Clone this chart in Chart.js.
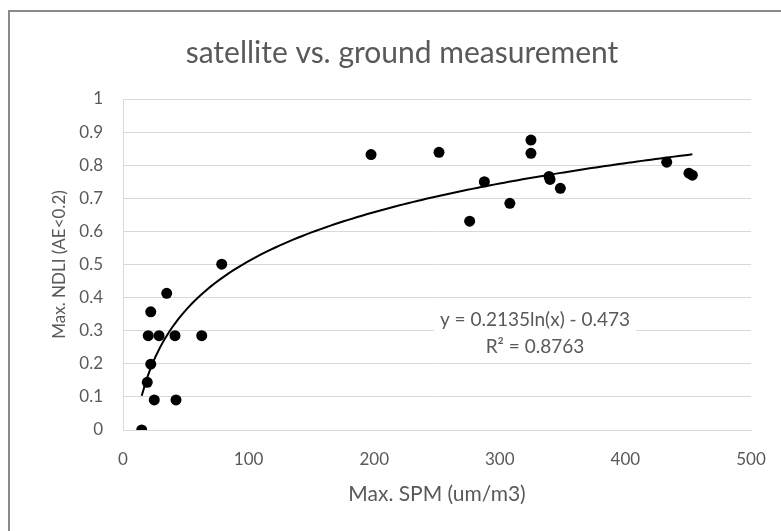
<!DOCTYPE html>
<html><head><meta charset="utf-8">
<script src="https://cdn.jsdelivr.net/npm/chart.js@4.4.1/dist/chart.umd.min.js"></script>
<style>
html,body{margin:0;padding:0;background:#fff;}
#wrap{position:relative;width:781px;height:531px;overflow:hidden;background:#fff;}
#frame{position:absolute;left:8px;top:10px;width:800px;height:600px;border-left:2px solid #8a8a8a;border-top:2px solid #8a8a8a;pointer-events:none;}
canvas{position:absolute;left:0;top:0;}
</style></head><body>
<div id="wrap"><canvas id="c" width="781" height="531"></canvas><div id="frame"></div></div>
<script>
// Data
const spm  = [14.9, 19.3, 22.1, 22.1, 20.1, 28.7, 41.4, 62.7, 24.9, 42.2, 34.8, 78.6,
              197.5, 251.6, 287.7, 276.0, 308.0, 324.8, 324.8, 339.2, 340.0, 348.2, 432.9, 450.6, 453.3];
const ndli = [0.000, 0.144, 0.199, 0.357, 0.285, 0.285, 0.285, 0.285, 0.091, 0.091, 0.413, 0.501,
              0.832, 0.839, 0.750, 0.631, 0.685, 0.876, 0.836, 0.766, 0.757, 0.730, 0.809, 0.776, 0.770];
// Trendline coefficients shown on the chart: y = a ln(x) + b
const trendA = 0.2135;
const trendB = -0.473;
const trendLabel = ["y = 0.2135ln(x) - 0.473", "R\u00B2 = 0.8763"];
const xTicks = [0, 100, 200, 300, 400, 500];
const yTicks = [0, 0.1, 0.2, 0.3, 0.4, 0.5, 0.6, 0.7, 0.8, 0.9, 1];
const yTickLabels = ["0", "0.1", "0.2", "0.3", "0.4", "0.5", "0.6", "0.7", "0.8", "0.9", "1"];
const chartTitle = "satellite vs. ground measurement";
const xTitle = "Max. SPM (um/m3)";
const yTitle = "Max. NDLI (AE<0.2)";

const points = spm.map((x, i) => ({x: x, y: ndli[i]}));
const xMin = Math.min(...spm), xMax = Math.max(...spm);
const trend = [];
const nSteps = 120;
for (let i = 0; i <= nSteps; i++) {
  const x = xMin + (xMax - xMin) * i / nSteps;
  trend.push({x: x, y: trendA * Math.log(x) + trendB});
}

const FONT = "Lato, 'Open Sans', sans-serif";
const TXT = "#595959";
const GRID = "#d9d9d9";

const eqPlugin = {
  id: 'eqLabel',
  afterDatasetsDraw(chart) {
    const ctx = chart.ctx;
    const xs = chart.scales.x, ys = chart.scales.y;
    const cx = xs.getPixelForValue(328);
    const y1 = ys.getPixelForValue(0.332);
    const y2 = ys.getPixelForValue(0.251);
    ctx.save();
    ctx.font = "19px " + FONT;
    const w = Math.max(ctx.measureText(trendLabel[0]).width, ctx.measureText(trendLabel[1]).width) + 12;
    ctx.fillStyle = "#fff";
    ctx.fillRect(cx - w / 2, y1 - 13, w, (y2 - y1) + 26);
    ctx.fillStyle = TXT;
    ctx.textAlign = "center";
    ctx.textBaseline = "middle";
    ctx.fillText(trendLabel[0], cx, y1);
    ctx.fillText(trendLabel[1], cx, y2);
    ctx.restore();
  }
};

new Chart(document.getElementById('c'), {
  type: 'scatter',
  data: {
    datasets: [
      {
        label: 'points', data: points, showLine: false,
        pointRadius: 5.5, pointHoverRadius: 5.5,
        pointBackgroundColor: '#000', pointBorderColor: '#000', pointBorderWidth: 0,
        order: 2
      },
      {
        label: 'trend', data: trend, showLine: true, pointRadius: 0,
        borderColor: '#000', borderWidth: 2, fill: false, tension: 0,
        order: 1
      }
    ]
  },
  options: {
    responsive: false,
    animation: false,
    devicePixelRatio: 1,
    layout: {padding: {left: 53, right: 30, top: 0, bottom: 0}},
    plugins: {
      legend: {display: false},
      tooltip: {enabled: false},
      title: {
        display: true, text: chartTitle, color: TXT,
        font: {family: FONT, size: 30, weight: 'normal'},
        padding: {top: 35, bottom: 28}
      }
    },
    scales: {
      x: {
        type: 'linear', min: 0, max: 500,
        afterBuildTicks: s => { s.ticks = xTicks.map(v => ({value: v})); },
        afterFit: s => { s.height = 101; s.paddingLeft = 0; s.paddingRight = 0; },
        grid: {display: false, drawTicks: false},
        border: {display: true, color: GRID, width: 1},
        ticks: {color: TXT, font: {family: FONT, size: 17}, padding: 19, maxRotation: 0},
        title: {display: true, text: xTitle, color: TXT, font: {family: FONT, size: 21}, padding: {top: 0, bottom: 24}}
      },
      y: {
        type: 'linear', min: 0, max: 1,
        afterBuildTicks: s => { s.ticks = yTicks.map(v => ({value: v})); },
        afterFit: s => { s.width = 70; s.paddingTop = 0; s.paddingBottom = 0; },
        grid: {color: GRID, lineWidth: 1, drawTicks: false},
        border: {display: true, color: GRID, width: 1},
        ticks: {color: TXT, font: {family: FONT, size: 17}, padding: 20,
                callback: (v, i) => yTickLabels[i]},
        title: {display: true, text: yTitle, color: TXT, font: {family: FONT, size: 17}, padding: {top: -4, bottom: 0}}
      }
    }
  },
  plugins: [eqPlugin]
});
</script>
</body></html>
